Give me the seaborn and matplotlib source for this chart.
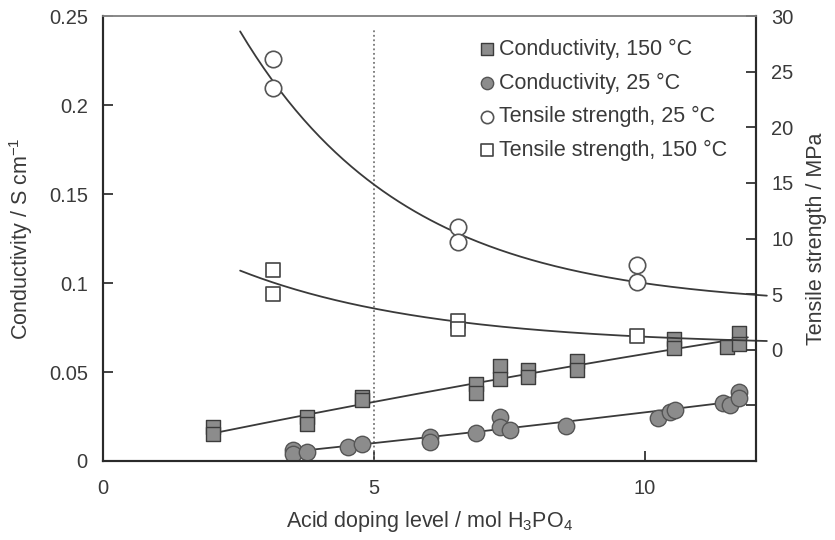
import numpy as np
import matplotlib
matplotlib.use("Agg")
import matplotlib.pyplot as plt
import seaborn as sns

# =========================
# STYLE
# =========================
sns.set_theme(style="white")
plt.rcParams['font.family'] = ['Liberation Sans', 'DejaVu Sans']
plt.rcParams['mathtext.fontset'] = 'custom'
plt.rcParams['mathtext.rm'] = 'Liberation Sans'
plt.rcParams['mathtext.it'] = 'Liberation Sans:italic'
plt.rcParams['mathtext.bf'] = 'Liberation Sans:bold'

TEXT = '#3a3a3a'
LINE = '#3a3a3a'
FS = 14.5
FS_LABEL = 15.5

# =========================
# DATA
# =========================
# conductivity at 150 C (S/cm)
cond150_x = [2.03, 2.03, 3.76, 3.76, 4.78, 4.78, 6.88, 6.88, 7.33, 7.33,
             7.84, 7.84, 8.75, 8.75, 10.54, 10.54, 11.52, 11.73, 11.73]
cond150_y = [0.019, 0.015, 0.025, 0.021, 0.036, 0.034, 0.043, 0.038, 0.0535, 0.046,
             0.051, 0.047, 0.056, 0.051, 0.0685, 0.0635, 0.064, 0.072, 0.066]

# conductivity at 25 C (S/cm)
cond25_x = [3.5, 3.5, 3.76, 4.52, 4.78, 6.03, 6.03, 6.88, 7.33, 7.33,
            7.51, 8.54, 10.24, 10.46, 10.55, 11.44, 11.57, 11.73, 11.73]
cond25_y = [0.006, 0.004, 0.005, 0.008, 0.0096, 0.0135, 0.0105, 0.0158, 0.0245, 0.019,
            0.0175, 0.0197, 0.024, 0.0276, 0.0287, 0.0327, 0.0315, 0.0385, 0.0355]

# tensile strength (MPa)
tens25_x = [3.14, 3.14, 6.55, 6.55, 9.85, 9.85]
tens25_y = [26.1, 23.55, 11.05, 9.66, 7.6, 6.1]

tens150_x = [3.14, 3.14, 6.55, 6.55, 9.85]
tens150_y = [7.2, 4.97, 2.6, 1.9, 1.25]

# points
c150_fit_x = [2.03, 4.78, 6.96, 9.54, 10.65, 11.38, 11.9]
c150_fit_y = [0.0158, 0.0315, 0.044, 0.0586, 0.0636, 0.0664, 0.0695]

c25_fit_x = [3.5, 4.78, 6.03, 6.96, 8.54, 9.85, 11.88]
c25_fit_y = [0.0051, 0.0096, 0.0129, 0.0175, 0.0214, 0.027, 0.0343]

t25_fit_x = [2.53, 3.14, 3.69, 4.37, 4.98, 6.03, 6.53, 8.19, 9.72, 12.0, 12.25]
t25_fit_y = [28.4, 24.5, 20.7, 17.4, 15.0, 11.5, 10.3, 7.7, 6.5, 5.0, 4.7]

t150_fit_x = [2.53, 3.14, 4.98, 6.03, 6.53, 8.19, 9.72, 12.0, 12.25]
t150_fit_y = [7.06, 6.08, 3.93, 2.77, 2.4, 1.7, 1.25, 0.85, 0.8]

DOPING_MARK = 5
DOPING_MARK_TOP = 0.243


# =========================
# TREND LINE HELPERS
# =========================
def quad_trend(xs, ys):
    xs = np.asarray(xs)
    coef = np.polyfit(xs, ys, 2)
    xx = np.linspace(xs.min(), xs.max(), 200)
    return xx, np.polyval(coef, xx)


def exp_trend(xs, ys):
    # y = A*exp(-k x) + C, best k by grid search
    xs = np.asarray(xs)
    ys = np.asarray(ys)
    best = None
    for k in np.linspace(0.05, 1.0, 400):
        m = np.column_stack([np.exp(-k * xs), np.ones_like(xs)])
        coef, *_ = np.linalg.lstsq(m, ys, rcond=None)
        err = np.sum((m @ coef - ys) ** 2)
        if best is None or err < best[0]:
            best = (err, k, coef)
    _, k, (a, c) = best
    xx = np.linspace(xs.min(), xs.max(), 200)
    return xx, a * np.exp(-k * xx) + c


# =========================
# FIGURE
# =========================
fig = plt.figure(figsize=(8.35, 5.4), dpi=100)
ax = fig.add_axes([0.1234, 0.1463, 0.782, 0.824])
ax2 = ax.twinx()

# dotted marker at doping level 5
ax.vlines(DOPING_MARK, 0, DOPING_MARK_TOP, colors='#777777',
          linestyles=(0, (1, 1.5)), linewidth=1.3, zorder=1)

# trend lines
for fx, fy, axis, fn in [
    (c150_fit_x, c150_fit_y, ax, quad_trend),
    (c25_fit_x, c25_fit_y, ax, quad_trend),
    (t25_fit_x, t25_fit_y, ax2, exp_trend),
    (t150_fit_x, t150_fit_y, ax2, exp_trend),
]:
    xx, yy = fn(fx, fy)
    sns.lineplot(x=xx, y=yy, ax=axis, color=LINE, linewidth=1.3,
                 sort=False, clip_on=False, zorder=2)

# markers
sns.scatterplot(x=cond150_x, y=cond150_y, ax=ax, marker='s', s=115,
                color='#8c8c8c', edgecolor='#3c3c3c', linewidth=1.0,
                label='Conductivity, 150 \u00b0C', zorder=3)
sns.scatterplot(x=cond25_x, y=cond25_y, ax=ax, marker='o', s=140,
                color='#8c8c8c', edgecolor='#555555', linewidth=1.0,
                label='Conductivity, 25 \u00b0C', zorder=3)
sns.scatterplot(x=tens25_x, y=tens25_y, ax=ax2, marker='o', s=140,
                color='white', edgecolor='#555555', linewidth=1.2,
                label='Tensile strength, 25 \u00b0C', zorder=3)
sns.scatterplot(x=tens150_x, y=tens150_y, ax=ax2, marker='s', s=115,
                color='white', edgecolor='#444444', linewidth=1.2,
                label='Tensile strength, 150 \u00b0C', zorder=3)

# =========================
# AXES
# =========================
ax.set_xlim(0, 12.05)
ax.set_ylim(0, 0.25)
ax2.set_ylim(-10, 30)

ax.set_xticks([0, 5, 10])
ax.set_yticks([0, 0.05, 0.1, 0.15, 0.2, 0.25])
ax.set_yticklabels(['0', '0.05', '0.1', '0.15', '0.2', '0.25'])
r_ticks = list(range(-5, 31, 5))
ax2.set_yticks(r_ticks)
ax2.set_yticklabels(['' if t < 0 else str(t) for t in r_ticks])

ax.tick_params(axis='x', direction='in', length=7, width=1.3, pad=13,
               labelsize=FS, labelcolor=TEXT, color='#333333', bottom=True)
ax.tick_params(axis='y', direction='in', length=7, width=1.3, pad=11,
               labelsize=FS, labelcolor=TEXT, color='#333333', left=True)
ax2.tick_params(axis='y', direction='in', length=7, width=1.3, pad=11,
                labelsize=FS, labelcolor=TEXT, color='#333333', right=True)

ax.set_xlabel('Acid doping level / mol H$\\mathregular{_3}$PO$\\mathregular{_4}$',
              fontsize=FS_LABEL, color=TEXT, labelpad=8)
ax.set_ylabel('Conductivity / S cm$\\mathregular{^{-1}}$', fontsize=FS_LABEL,
              color=TEXT, labelpad=10)
ax2.set_ylabel('Tensile strength / MPa', fontsize=FS_LABEL, color=TEXT,
               labelpad=9)

for a in (ax, ax2):
    for side in ('left', 'bottom', 'right'):
        a.spines[side].set_color('#2a2a2a')
        a.spines[side].set_linewidth(1.5)
    a.spines['top'].set_color('#888888')
    a.spines['top'].set_linewidth(1.2)
    a.grid(False)

# =========================
# LEGEND
# =========================
h1, l1 = ax.get_legend_handles_labels()
h2, l2 = ax2.get_legend_handles_labels()
if ax.get_legend() is not None:
    ax.get_legend().remove()
if ax2.get_legend() is not None:
    ax2.get_legend().remove()
leg = ax2.legend(h1 + h2, l1 + l2, loc='upper left',
                 bbox_to_anchor=(0.56, 0.968), frameon=False,
                 fontsize=15.5, handletextpad=0.1, handlelength=0.9,
                 labelspacing=0.58, markerscale=0.75, borderaxespad=0)
for t in leg.get_texts():
    t.set_color(TEXT)

fig.savefig("out.png", dpi=100)
